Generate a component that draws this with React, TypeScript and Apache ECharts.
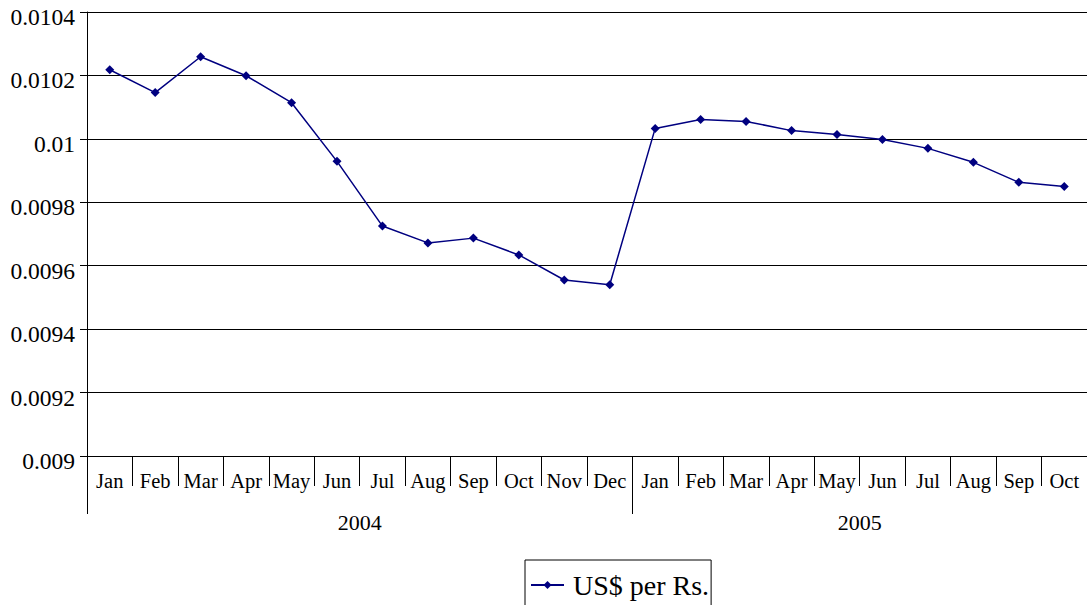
import React, { useEffect, useRef } from "react";
import * as echarts from "echarts";

const months = [
  "Jan", "Feb", "Mar", "Apr", "May", "Jun", "Jul", "Aug", "Sep", "Oct", "Nov", "Dec",
  "Jan", "Feb", "Mar", "Apr", "May", "Jun", "Jul", "Aug", "Sep", "Oct",
];
const years = ["2004", "2005"];
const monthsPerYear = [12, 10];
const usdPerRs = [
  0.010218, 0.010146, 0.010259, 0.010199, 0.010114, 0.009929, 0.009725, 0.009672,
  0.009687, 0.009634, 0.009555, 0.00954,
  0.010033, 0.010061, 0.010055, 0.010026, 0.010014, 0.009998, 0.00997, 0.009926,
  0.009863, 0.00985,
];
const yMin = 0.009;
const yMax = 0.0104;
const yStep = 0.0002;

const FONT = "Liberation Serif";

export default function App() {
  const ref = useRef<HTMLDivElement>(null);
  useEffect(() => {
    document.body.style.margin = "0";
    const chart = echarts.init(ref.current!, null, { renderer: "svg" });
    const boundaries: number[] = [0];
    const centers: number[] = [];
    let acc = 0;
    monthsPerYear.forEach((n) => {
      centers.push(acc + n / 2);
      acc += n;
      boundaries.push(acc);
    });
    chart.setOption({
      animation: false,
      textStyle: { fontFamily: FONT },
      grid: { left: 87, top: 12, right: -2, bottom: 149, containLabel: false },
      xAxis: [
        {
          type: "category",
          data: months,
          boundaryGap: true,
          position: "bottom",
          axisLine: { show: true, lineStyle: { color: "#000", width: 1 } },
          axisTick: { show: true, interval: 0, length: 30, lineStyle: { color: "#000" } },
          axisLabel: { interval: 0, margin: 14, color: "#000", fontSize: 20.5, fontFamily: FONT },
          splitLine: { show: false },
        },
        {
          type: "value",
          min: 0,
          max: months.length,
          position: "bottom",
          axisLine: { show: false },
          axisTick: {
            show: true,
            length: 58,
            customValues: boundaries.slice(0, -1),
            lineStyle: { color: "#000" },
          },
          axisLabel: {
            customValues: centers,
            formatter: (v: number) => years[centers.indexOf(v)] ?? "",
            margin: 55,
            color: "#000",
            fontSize: 22,
            fontFamily: FONT,
          },
          splitLine: { show: false },
        },
      ],
      yAxis: {
        type: "value",
        min: yMin,
        max: yMax,
        interval: yStep,
        axisLine: { show: true, lineStyle: { color: "#000" } },
        axisTick: { show: true, length: 7, lineStyle: { color: "#000" } },
        axisLabel: {
          color: "#000",
          fontSize: 23.5,
          fontFamily: FONT,
          margin: 12,
          verticalAlign: "top",
          lineHeight: 10,
          formatter: (v: number) => String(parseFloat(v.toPrecision(6))),
        },
        splitLine: { show: true, lineStyle: { color: "#000", width: 1 } },
      },
      legend: {
        show: true,
        left: 525,
        top: 560,
        orient: "horizontal",
        borderColor: "#000",
        borderWidth: 1,
        padding: [11, 2, 14, 5],
        itemWidth: 33,
        itemHeight: 10,
        itemGap: 6,
        textStyle: { color: "#000", fontSize: 28, fontFamily: FONT, padding: [0, 0, 0, 4] },
        data: ["US$ per Rs."],
      },
      series: [
        {
          name: "US$ per Rs.",
          type: "line",
          xAxisIndex: 0,
          data: usdPerRs,
          symbol: "diamond",
          symbolSize: 9,
          lineStyle: { color: "#000080", width: 1.5 },
          itemStyle: { color: "#000080" },
        },
      ],
    });
    return () => chart.dispose();
  }, []);
  return <div ref={ref} style={{ width: 1087, height: 605 }} />;
}
